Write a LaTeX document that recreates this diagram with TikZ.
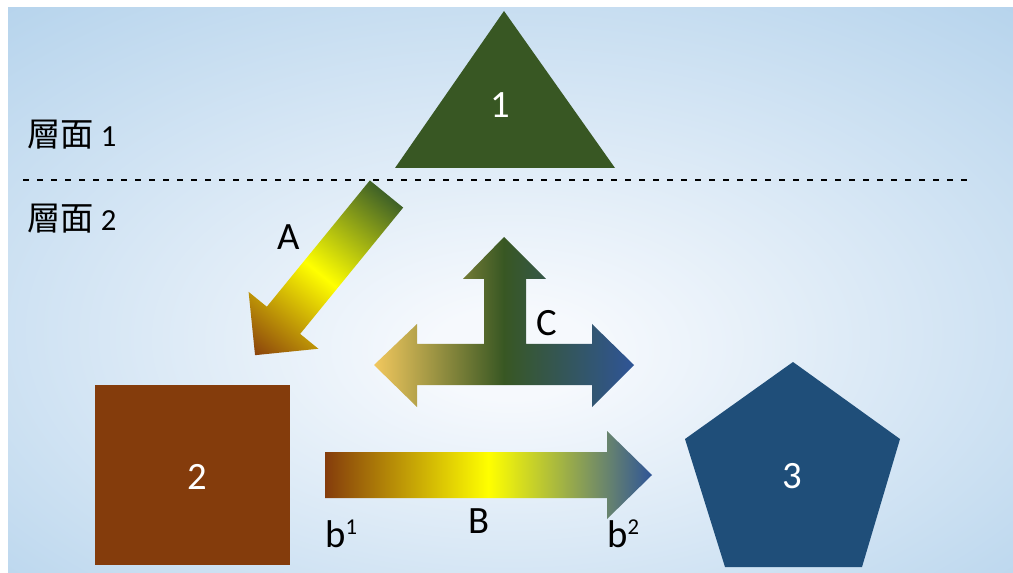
\documentclass[tikz,border=0pt]{standalone}
\usepackage{fontspec}
\setmainfont{Carlito}
\newfontfamily\cjk{Noto Sans CJK TC}
\definecolor{bgblue}{RGB}{181,211,236}
\definecolor{bgcenter}{RGB}{246,249,253}
\definecolor{shgreen}{HTML}{385723}
\definecolor{shbrown}{HTML}{843C0C}
\definecolor{shblue}{HTML}{1F4E79}
\definecolor{argreen}{HTML}{3F6127}
\definecolor{arbrown}{HTML}{8A420C}
\definecolor{arblue}{HTML}{2F5597}
\definecolor{argold}{HTML}{F2C85E}
\pgfdeclareradialshading{bgrad}{\pgfpoint{0bp}{-6bp}}{color(0bp)=(bgcenter); color(4bp)=(bgcenter); color(38bp)=(bgblue); color(60bp)=(bgblue)}
\pgfdeclarehorizontalshading{shA}{100bp}{color(0bp)=(argreen); color(25bp)=(argreen); color(50bp)=(yellow); color(75bp)=(arbrown); color(100bp)=(arbrown)}
\pgfdeclarehorizontalshading{shB}{100bp}{color(0bp)=(shbrown); color(25bp)=(shbrown); color(50bp)=(yellow); color(75bp)=(arblue); color(100bp)=(arblue)}
\pgfdeclarehorizontalshading{shC}{100bp}{color(0bp)=(argold); color(25bp)=(argold); color(50bp)=(shgreen); color(75bp)=(arblue); color(100bp)=(arblue)}
\newcommand{\supnum}[1]{\raisebox{9.5pt}{\fontsize{17}{20}\selectfont #1}}
\begin{document}
\begin{tikzpicture}[x=0.75pt,y=-0.75pt,
  lbl/.style={font=\fontsize{29}{34}\selectfont, inner sep=0pt},
  wlbl/.style={lbl, text=white},
  layer/.style={anchor=base west, inner sep=0pt},
  divider/.style={black, line width=1.5pt, dash pattern=on 4.5pt off 6pt}]
\useasboundingbox (0,0) rectangle (1013,573);
\fill[white] (0,0) rectangle (1013,573);
\shade[shading=bgrad] (8,8) rectangle (1013,573);

% divider
\coordinate (dl) at (23,180);
\coordinate (dr) at (970,180);
\draw[divider] (dl) -- (dr);

% shapes
\fill[shgreen] (504,11) -- (615,168) -- (395,168) -- cycle;
\fill[shbrown] (95,385) rectangle (290,565);
\fill[shblue] (793,362) -- (900,439) -- (862,567) -- (725,567) -- (685,439) -- cycle;

% arrow A
\begin{scope}[transform canvas={shift={(386.5,194)}, rotate=230.8}]
\shade[shading=shA] (0,-21.5) -- (163,-21.5) -- (163,-45) -- (208,0) -- (163,45) -- (163,21.5) -- (0,21.5) -- cycle;
\end{scope}

% arrow B
\shade[shading=shB] (325,452) -- (607,452) -- (607,431) -- (652,475) -- (607,519) -- (607,498) -- (325,498) -- cycle;

% arrow C
\shade[shading=shC] (374,365) -- (417,324) -- (417,344) -- (484,344) -- (484,279) -- (463,279) -- (504,237) -- (546,279) -- (526,279) -- (526,344) -- (592,344) -- (592,324) -- (634,365) -- (592,407) -- (592,385) -- (417,385) -- (417,407) -- cycle;

% labels
\node[lbl, anchor=base] (A) at (288.5,250) {A};
\node[lbl, anchor=base] (C) at (547,335) {C};
\node[lbl, anchor=base] (B) at (479.5,533) {B};
\node[lbl, anchor=base west] (b1) at (325,547) {b\supnum{1}};
\node[lbl, anchor=base west] (b2) at (607,547) {b\supnum{2}};
\node[wlbl, anchor=base] (n1) at (500,118) {1};
\node[wlbl, anchor=base] (n2) at (197,489) {2};
\node[wlbl, anchor=base] (n3) at (792,488) {3};
\node[layer] (L1) at (27,147) {{\cjk\fontsize{25}{30}\selectfont 層面}\fontsize{23}{28}\selectfont\ 1};
\node[layer] (L2) at (27,231) {{\cjk\fontsize{25}{30}\selectfont 層面}\fontsize{23}{28}\selectfont\ 2};
\end{tikzpicture}
\end{document}
